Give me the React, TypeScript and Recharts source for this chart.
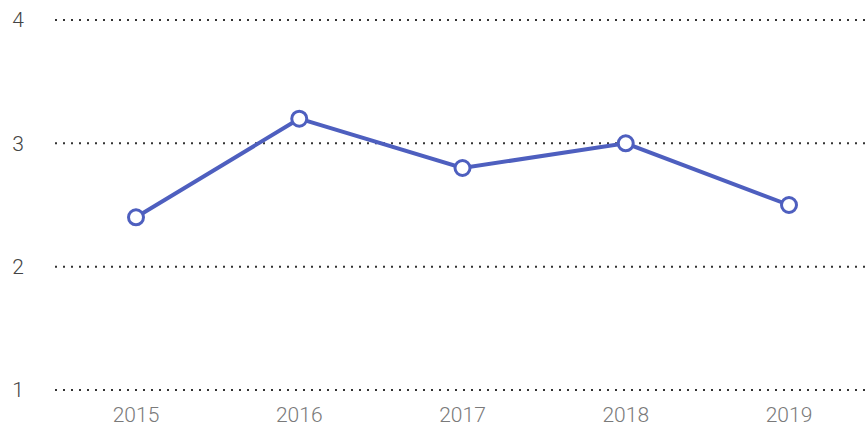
import { LineChart, Line, XAxis, YAxis, CartesianGrid } from 'recharts';

const years = ['2015', '2016', '2017', '2018', '2019'];
const values = [2.4, 3.2, 2.8, 3.0, 2.5];
const yTicks = [1, 2, 3, 4];

const data = years.map((year, i) => ({ year, value: values[i] }));

const App = () => {
  return (
    <div style={{ position: 'absolute', left: 0, top: 0 }}>
      <LineChart
        width={866}
        height={427}
        data={data}
        margin={{ top: 20, right: 0, left: 0, bottom: 0 }}
      >
        <CartesianGrid
          vertical={false}
          stroke="#333"
          strokeWidth={2}
          strokeDasharray="2 6"
        />
        <XAxis
          dataKey="year"
          axisLine={false}
          tickLine={false}
          height={37}
          tickMargin={11}
          padding={{ left: 81, right: 77 }}
          tick={{ fill: '#7a7a7a', fontSize: 21, fontFamily: 'Roboto', fontWeight: 300 }}
        />
        <YAxis
          domain={[1, 4]}
          ticks={yTicks}
          axisLine={false}
          tickLine={false}
          width={55}
          tickMargin={25}
          tick={{ fill: '#444', fontSize: 21, fontFamily: 'Roboto', fontWeight: 300 }}
        />
        <Line
          type="linear"
          dataKey="value"
          stroke="#4e5fbf"
          strokeWidth={4}
          dot={{ r: 7.5, fill: '#fff', stroke: '#4e5fbf', strokeWidth: 3 }}
          isAnimationActive={false}
        />
      </LineChart>
    </div>
  );
};

export default App;
